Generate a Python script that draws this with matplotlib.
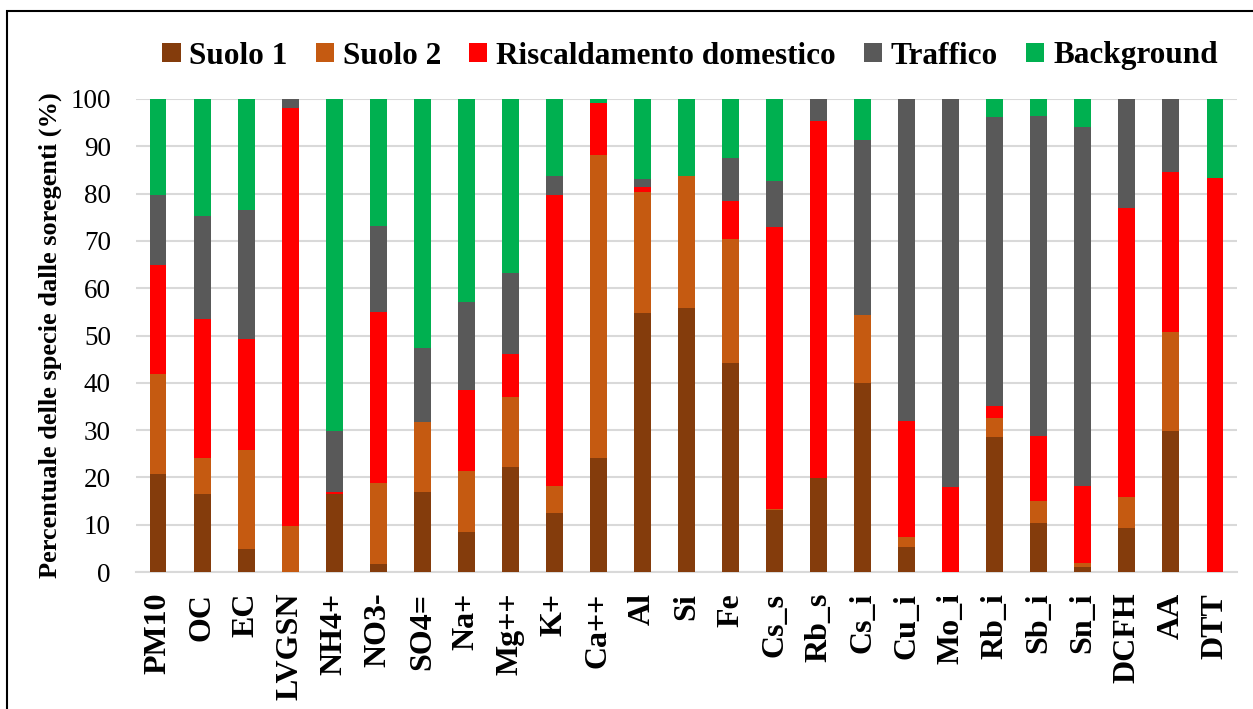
import matplotlib
matplotlib.use("Agg")
import matplotlib.pyplot as plt
import numpy as np
from matplotlib.patches import Rectangle

categories = ["PM10", "OC", "EC", "LVGSN", "NH4+", "NO3-", "SO4=", "Na+", "Mg++", "K+",
              "Ca++", "Al", "Si", "Fe", "Cs_s", "Rb_s", "Cs_i", "Cu_i", "Mo_i", "Rb_i",
              "Sb_i", "Sn_i", "DCFH", "AA", "DTT"]

suolo1 = [20.8, 16.5, 4.9, 0.0, 16.4, 1.6, 17.0, 8.5, 22.3, 12.4,
          24.0, 54.7, 55.8, 44.2, 13.1, 19.8, 40.0, 5.3, 0.0, 28.5,
          10.3, 1.1, 9.4, 29.8, 0.0]
suolo2 = [21.0, 7.7, 20.8, 9.7, 0.0, 17.3, 14.7, 12.8, 14.8, 5.8,
          64.2, 25.7, 28.0, 26.2, 0.3, 0.0, 14.3, 2.0, 0.0, 4.1,
          4.8, 0.8, 6.5, 21.0, 0.0]
riscaldamento = [23.2, 29.3, 23.6, 88.3, 0.5, 36.1, 0.0, 17.1, 9.0, 61.4,
                 11.0, 1.0, 0.0, 8.1, 59.6, 75.6, 0.0, 24.6, 18.0, 2.5,
                 13.6, 16.3, 61.1, 33.7, 83.2]
traffico = [14.8, 21.8, 27.3, 2.0, 12.9, 18.1, 15.6, 18.7, 17.1, 4.2,
            0.0, 1.7, 0.0, 9.0, 9.6, 4.6, 37.1, 68.1, 82.0, 61.0,
            67.8, 75.8, 23.0, 15.5, 0.0]
background = [20.2, 24.7, 23.4, 0.0, 70.2, 26.9, 52.7, 42.9, 36.8, 16.2,
              0.8, 16.9, 16.2, 12.5, 17.4, 0.0, 8.6, 0.0, 0.0, 3.9,
              3.5, 6.0, 0.0, 0.0, 16.8]

series_names = ["Suolo 1", "Suolo 2", "Riscaldamento domestico", "Traffico", "Background"]
series_colors = ["#843C0C", "#C55A11", "#FF0000", "#595959", "#00B050"]
yticks = [0, 10, 20, 30, 40, 50, 60, 70, 80, 90, 100]

plt.rcParams['font.family'] = ['Liberation Serif', 'DejaVu Serif']

fig = plt.figure(figsize=(12.53, 7.09), dpi=100)
ax = fig.add_axes([136/1253, 1-572/709, (1237-136)/1253, (572-99)/709])

x = np.arange(len(categories))
bottom = np.zeros(len(categories))
handles = []
for name, vals, col in zip(series_names, [suolo1, suolo2, riscaldamento, traffico, background], series_colors):
    vals = np.array(vals)
    h = ax.bar(x, vals, width=0.385, bottom=bottom, color=col, label=name, zorder=3)
    handles.append(h)
    bottom += vals

ax.set_xlim(-0.5, len(categories) - 0.5)
ax.set_ylim(0, 100)
ax.set_yticks(yticks)
ax.set_yticklabels([str(t) for t in yticks], fontsize=19.5)
ax.set_xticks(x)
ax.set_xticklabels(categories, rotation=90, fontsize=23, fontweight='bold')
ax.tick_params(axis='both', length=0)
ax.tick_params(axis='y', pad=18)
ax.tick_params(axis='x', pad=15)
ax.grid(axis='y', color='#D9D9D9', linewidth=1.5, zorder=0)
for s in ['top', 'right', 'left']:
    ax.spines[s].set_visible(False)
ax.spines['bottom'].set_color('#D9D9D9')
ax.spines['bottom'].set_linewidth(1.5)
ax.set_ylabel("Percentuale delle specie dalle soregenti (%)", fontsize=19, fontweight='bold', labelpad=6)

fig.legend(handles=handles, labels=series_names, loc='center', bbox_to_anchor=(690/1253, 1-56/709),
           ncol=5, frameon=False, prop={'size': 22.5, 'weight': 'bold'},
           handlelength=0.58, handleheight=0.58, handletextpad=0.28, columnspacing=0.9)

fig.patches.append(Rectangle((7/1253, -0.01), 1.02, 1-11/709+0.01, transform=fig.transFigure,
                             fill=False, edgecolor='black', linewidth=1.5))

fig.savefig("out.png", dpi=100)
